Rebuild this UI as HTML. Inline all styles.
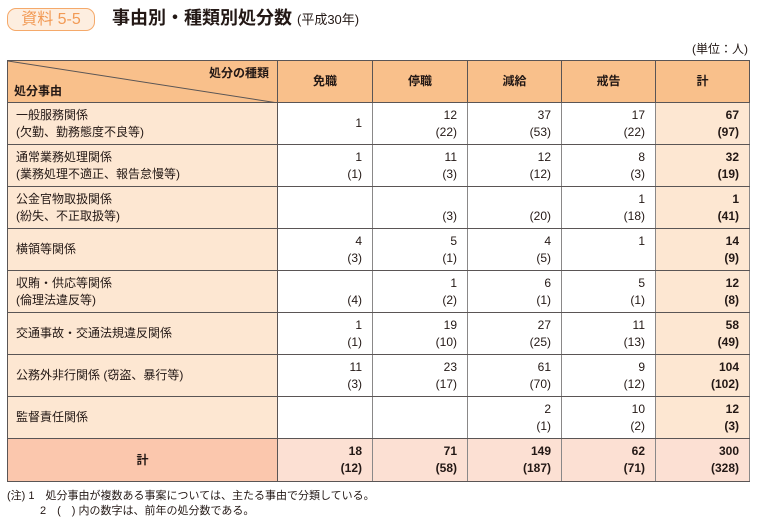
<!DOCTYPE html>
<html><head><meta charset="utf-8"><style>
body{margin:0;width:760px;height:525px;background:#fff;font-family:"Liberation Sans","Noto Sans CJK JP",sans-serif;color:#231815;position:relative;overflow:hidden}
.badge{position:absolute;left:7px;top:8px;width:86px;height:21px;border:1.5px solid #f5a96a;border-radius:9px;background:#fdeee0;color:#f29a55;font-size:16px;line-height:21px;text-align:center}
.title{position:absolute;left:112px;top:6px;font-size:18px;font-weight:bold;line-height:24px}
.title span{font-size:13px;font-weight:normal}
.unit{position:absolute;right:12px;top:40px;font-size:12px}
table{position:absolute;left:7px;top:60px;border-collapse:collapse;table-layout:fixed}
td{border:1.5px solid #5a5555;padding:0;font-size:12px;line-height:17px}
td.h{background:#f9c08b;text-align:center;font-weight:bold;height:41px}
td.l{background:#fde7d2;padding-left:8px;text-align:left}
td.n{text-align:right;padding-right:10px;border-color:#5a5555 #8a8888}
td.k{background:#fde7d2;font-weight:bold}
tr.r td{height:41px}
tr.t td{height:42px;background:#fce0d3}
tr.t td.tl{background:#fbc7ad;text-align:center;font-weight:bold}
.note{position:absolute;left:7px;top:489px;font-size:11px;line-height:15px}
</style></head><body>
<div class="badge">資料 5-5</div>
<div class="title">事由別・種類別処分数 <span>(平成30年)</span></div>
<div class="unit">(単位：人)</div>
<table>
<colgroup><col style="width:270px"><col style="width:95px"><col style="width:95px"><col style="width:94px"><col style="width:94px"><col style="width:94px"></colgroup>
<tr><td class="h" style="position:relative;text-align:left">
<svg style="position:absolute;left:0;top:0" width="270" height="42"><line x1="0" y1="0" x2="270" y2="42" stroke="#5a5555" stroke-width="1"/></svg>
<div style="position:absolute;right:8px;top:4px">処分の種類</div><div style="position:absolute;left:6px;top:22px">処分事由</div></td>
<td class="h">免職</td><td class="h">停職</td><td class="h">減給</td><td class="h">戒告</td><td class="h">計</td></tr>
<tr class="r"><td class="l">一般服務関係<br>(欠勤、勤務態度不良等)</td><td class="n">1</td><td class="n">12<br>(22)</td><td class="n">37<br>(53)</td><td class="n">17<br>(22)</td><td class="n k">67<br>(97)</td></tr>
<tr class="r"><td class="l">通常業務処理関係<br>(業務処理不適正、報告怠慢等)</td><td class="n">1<br>(1)</td><td class="n">11<br>(3)</td><td class="n">12<br>(12)</td><td class="n">8<br>(3)</td><td class="n k">32<br>(19)</td></tr>
<tr class="r"><td class="l">公金官物取扱関係<br>(紛失、不正取扱等)</td><td class="n"></td><td class="n"><br>(3)</td><td class="n"><br>(20)</td><td class="n">1<br>(18)</td><td class="n k">1<br>(41)</td></tr>
<tr class="r"><td class="l">横領等関係</td><td class="n">4<br>(3)</td><td class="n">5<br>(1)</td><td class="n">4<br>(5)</td><td class="n">1<br>&nbsp;</td><td class="n k">14<br>(9)</td></tr>
<tr class="r"><td class="l">収賄・供応等関係<br>(倫理法違反等)</td><td class="n"><br>(4)</td><td class="n">1<br>(2)</td><td class="n">6<br>(1)</td><td class="n">5<br>(1)</td><td class="n k">12<br>(8)</td></tr>
<tr class="r"><td class="l">交通事故・交通法規違反関係</td><td class="n">1<br>(1)</td><td class="n">19<br>(10)</td><td class="n">27<br>(25)</td><td class="n">11<br>(13)</td><td class="n k">58<br>(49)</td></tr>
<tr class="r"><td class="l">公務外非行関係 (窃盗、暴行等)</td><td class="n">11<br>(3)</td><td class="n">23<br>(17)</td><td class="n">61<br>(70)</td><td class="n">9<br>(12)</td><td class="n k">104<br>(102)</td></tr>
<tr class="r"><td class="l">監督責任関係</td><td class="n"></td><td class="n"></td><td class="n">2<br>(1)</td><td class="n">10<br>(2)</td><td class="n k">12<br>(3)</td></tr>
<tr class="t"><td class="tl">計</td><td class="n" style="font-weight:bold">18<br>(12)</td><td class="n" style="font-weight:bold">71<br>(58)</td><td class="n" style="font-weight:bold">149<br>(187)</td><td class="n" style="font-weight:bold">62<br>(71)</td><td class="n" style="font-weight:bold">300<br>(328)</td></tr>
</table>
<div class="note">(注) 1　処分事由が複数ある事案については、主たる事由で分類している。<br>　　　2　(　) 内の数字は、前年の処分数である。</div>
</body></html>
